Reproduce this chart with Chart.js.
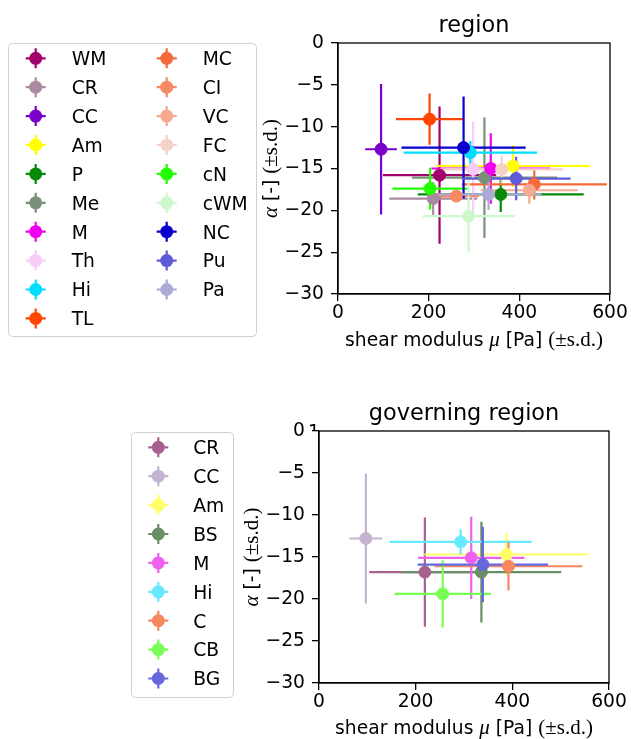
<!DOCTYPE html>
<html>
<head>
<meta charset="utf-8">
<script src="https://cdn.jsdelivr.net/npm/chart.js@4/dist/chart.umd.min.js"></script>
<style>
  body { margin: 0; background: #fff; }
  canvas { position: absolute; left: 0; }
</style>
</head>
<body>
<canvas id="regionChart" width="631" height="370" style="top:0"></canvas>
<canvas id="governingChart" width="631" height="369" style="top:370px"></canvas>
<script>
// ---- region (top) ----
const regionLabels = ['WM', 'CR', 'CC', 'Am', 'P', 'Me', 'M', 'Th', 'Hi', 'TL',
  'MC', 'CI', 'VC', 'FC', 'cN', 'cWM', 'NC', 'Pu', 'Pa'];
const regionMu = [224, 210, 95, 386, 359, 323, 337, 298, 292, 202,
  433, 261, 422, 361, 203, 288, 277, 393, 332];
const regionMuSd = [125, 97, 35, 170, 183, 160, 131, 60, 147, 74,
  160, 50, 107, 136, 83, 101, 137, 120, 117];
const regionAlpha = [-15.8, -18.6, -12.7, -14.7, -18.1, -16.1, -15.0, -15.1, -13.1, -9.1,
  -16.9, -18.3, -17.6, -15.1, -17.4, -20.7, -12.5, -16.2, -18.1];
const regionAlphaSd = [8.2, 2.0, 7.8, 2.5, 2.1, 7.2, 4.2, 5.7, 1.4, 3.05,
  1.8, 0.7, 1.6, 1.65, 2.5, 4.35, 6.1, 2.6, 1.85];
const regionColors = ['#A3006B', '#AA8AA0', '#7A00CC', '#FFFF00', '#078A07', '#7A9078',
  '#F000F0', '#F8CCF8', '#00DDFF', '#FF4500', '#F5693A', '#F58A65', '#F5AA90',
  '#F5D2C8', '#22FF00', '#CCF8CC', '#0A00CC', '#5F5AD6', '#ABABD6'];

// ---- governing region (bottom) ----
const govLabels = ['CR', 'CC', 'Am', 'BS', 'M', 'Hi', 'C', 'CB', 'BG'];
const govMu = [219, 97, 388, 336, 315, 293, 392, 256, 339];
const govMuSd = [115, 34, 170, 165, 110, 147, 153, 100, 135];
const govAlpha = [-16.8, -12.8, -14.7, -16.8, -15.1, -13.2, -16.1, -19.4, -15.9];
const govAlphaSd = [6.5, 7.75, 2.5, 6.0, 4.9, 1.5, 2.9, 4.0, 4.5];
const govColors = ['#A8608E', '#C4B4D2', '#FFFF66', '#6A8E66', '#F060F0', '#66EAFF',
  '#F5885E', '#77FF55', '#6666DD'];

const xTicks = [0, 200, 400, 600];
const yTicks = [0, -5, -10, -15, -20, -25, -30];

const SANS = 'DejaVu Sans';
const SERIF = 'Liberation Serif';
const FS = 18.7;
const Y_AXIS_W = 60;

// error bars go under every marker (like matplotlib)
const errorBars = {
  id: 'errorBars',
  beforeDatasetsDraw(chart) {
    const { ctx, chartArea: a, scales: { x, y } } = chart;
    ctx.save();
    ctx.beginPath();
    ctx.rect(a.left, a.top, a.right - a.left, a.bottom - a.top);
    ctx.clip();
    ctx.lineWidth = 2.2;
    chart.data.datasets.forEach(ds => {
      ctx.strokeStyle = ds.backgroundColor;
      ds.data.forEach(p => {
        const px = x.getPixelForValue(p.x), py = y.getPixelForValue(p.y);
        ctx.beginPath();
        ctx.moveTo(x.getPixelForValue(p.x - p.xErr), py);
        ctx.lineTo(x.getPixelForValue(p.x + p.xErr), py);
        ctx.moveTo(px, y.getPixelForValue(p.y + p.yErr));
        ctx.lineTo(px, y.getPixelForValue(p.y - p.yErr));
        ctx.stroke();
      });
    });
    ctx.restore();
  }
};

function drawParts(ctx, parts, cx, cy, rotated) {
  ctx.save();
  ctx.translate(cx, cy);
  if (rotated) ctx.rotate(-Math.PI / 2);
  let total = 0;
  parts.forEach(p => { ctx.font = p[1]; p.w = ctx.measureText(p[0]).width; total += p.w; });
  let xx = -total / 2;
  ctx.textAlign = 'left';
  ctx.textBaseline = 'alphabetic';
  ctx.fillStyle = '#000';
  parts.forEach(p => { ctx.font = p[1]; ctx.fillText(p[0], xx, 0); xx += p.w; });
  ctx.restore();
}

function legendMarker(ctx, cx, cy, color) {
  ctx.strokeStyle = color;
  ctx.fillStyle = color;
  ctx.lineWidth = 2.2;
  ctx.beginPath();
  ctx.moveTo(cx - 10, cy); ctx.lineTo(cx + 10, cy);
  ctx.moveTo(cx, cy - 10); ctx.lineTo(cx, cy + 10);
  ctx.stroke();
  ctx.beginPath();
  ctx.arc(cx, cy, 6.5, 0, Math.PI * 2);
  ctx.fill();
}

// frame, title, axis labels and legend
const decor = {
  id: 'decor',
  afterDraw(chart, args, o) {
    const { ctx, chartArea: a } = chart;
    ctx.save();
    ctx.strokeStyle = '#000';
    ctx.lineWidth = 1.3;
    ctx.strokeRect(a.left, a.top, a.right - a.left, a.bottom - a.top);

    ctx.fillStyle = '#000';
    ctx.font = '22.4px ' + SANS;
    ctx.textAlign = 'center';
    ctx.textBaseline = 'alphabetic';
    ctx.fillText(o.title, (a.left + a.right) / 2, a.top - 11);

    const sans = FS + 'px ' + SANS;
    const serif = '21px ' + SERIF;
    const ital = 'italic 21px ' + SERIF;
    drawParts(ctx, [['shear modulus ', sans], ['\u03bc', ital], [' [Pa] ', sans], ['(\u00b1s.d.)', serif]],
      (a.left + a.right) / 2, o.xLabelY, false);
    drawParts(ctx, [['\u03b1', ital], [' [-] ', sans], ['(\u00b1s.d.)', serif]],
      o.yLabelX, (a.top + a.bottom) / 2, true);

    // legend
    const L = o.legend;
    ctx.beginPath();
    ctx.lineWidth = 1;
    ctx.strokeStyle = '#d0d0d0';
    ctx.roundRect(L.x0 + 0.5, L.y0 + 0.5, L.x1 - L.x0, L.y1 - L.y0, 4);
    ctx.stroke();
    ctx.font = sans;
    ctx.textAlign = 'left';
    chart.data.datasets.forEach((ds, i) => {
      const col = Math.floor(i / L.rows), row = i % L.rows;
      const cy = L.rowY + row * L.rowGap;
      legendMarker(ctx, L.markX[col], cy, ds.backgroundColor);
      ctx.fillStyle = '#000';
      ctx.fillText(ds.label, L.textX[col], cy + 6.8);
    });

    if (o.stray) {
      ctx.beginPath();
      ctx.rect(300, a.top - 14, 30, 14);
      ctx.clip();
      ctx.fillStyle = '#000';
      ctx.font = sans;
      ctx.fillText('1', 308, a.top + 7);
    }
    ctx.restore();
  }
};

function makeChart(id, labels, mu, muSd, alpha, alphaSd, colors, layout) {
  const n = labels.length;
  const datasets = labels.map((lab, i) => ({
    label: lab,
    data: [{ x: mu[i], y: alpha[i], xErr: muSd[i], yErr: alphaSd[i] }],
    backgroundColor: colors[i],
    borderColor: colors[i],
    pointRadius: 6,
    pointBorderWidth: 1,
    pointHoverRadius: 6,
    order: n - i
  }));
  const tickFont = { family: SANS, size: FS };
  return new Chart(document.getElementById(id), {
    type: 'scatter',
    data: { datasets },
    plugins: [errorBars, decor],
    options: {
      responsive: false,
      animation: false,
      devicePixelRatio: 1,
      events: [],
      layout: { padding: layout.padding },
      plugins: {
        legend: { display: false },
        tooltip: { enabled: false },
        decor: layout.decor
      },
      scales: {
        x: {
          type: 'linear', min: 0, max: 600,
          afterBuildTicks: s => { s.ticks = xTicks.map(v => ({ value: v })); },
          ticks: { font: tickFont, color: '#000', padding: 1, maxRotation: 0, autoSkip: false },
          grid: { drawOnChartArea: false, tickLength: 7, color: '#000', lineWidth: 1.3 },
          border: { color: '#000', width: 1.3 },
          afterFit: s => { s.height = layout.xAxisH; s.paddingLeft = 0; s.paddingRight = 0; }
        },
        y: {
          type: 'linear', min: -30, max: 0,
          afterBuildTicks: s => { s.ticks = yTicks.map(v => ({ value: v })); },
          ticks: {
            font: tickFont, color: '#000', padding: 7,
            callback: v => String(v).replace('-', '\u2212')
          },
          grid: { drawOnChartArea: false, tickLength: 7, color: '#000', lineWidth: 1.3 },
          border: { color: '#000', width: 1.3 },
          afterFit: s => { s.width = Y_AXIS_W; s.paddingTop = 0; s.paddingBottom = 0; }
        }
      }
    }
  });
}

makeChart('regionChart', regionLabels, regionMu, regionMuSd, regionAlpha, regionAlphaSd, regionColors, {
  padding: { left: 338 - Y_AXIS_W, right: 21, top: 43, bottom: 0 },
  xAxisH: 76,
  decor: {
    title: 'region', xLabelY: 346, yLabelX: 277,
    legend: { x0: 8, y0: 43, x1: 256, y1: 336, rows: 10, rowY: 58.3, rowGap: 28.9,
      markX: [35.7, 166.7], textX: [71.7, 202.7] }
  }
});

makeChart('governingChart', govLabels, govMu, govMuSd, govAlpha, govAlphaSd, govColors, {
  padding: { left: 319 - Y_AXIS_W, right: 22, top: 61, bottom: 0 },
  xAxisH: 56,
  decor: {
    title: 'governing region', xLabelY: 364, yLabelX: 258, stray: true,
    legend: { x0: 131, y0: 62, x1: 233, y1: 327, rows: 9, rowY: 77.3, rowGap: 28.9,
      markX: [158.3], textX: [193.3] }
  }
});
</script>
</body>
</html>
